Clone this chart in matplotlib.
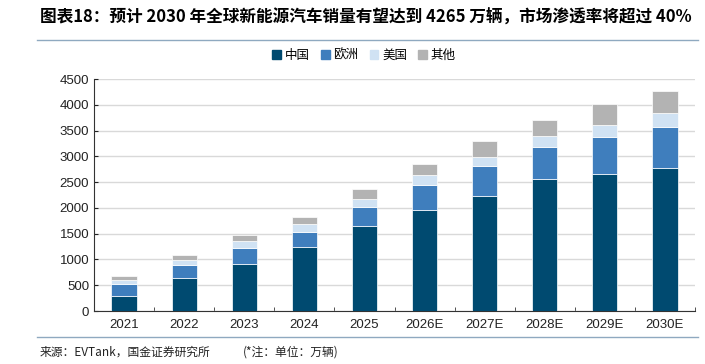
import numpy as np
import matplotlib.pyplot as plt
from matplotlib.lines import Line2D
from matplotlib.patches import Patch

plt.rcParams['font.family'] = ['Liberation Sans', 'Noto Sans CJK SC', 'DejaVu Sans']

years = ['2021', '2022', '2023', '2024', '2025', '2026E', '2027E', '2028E', '2029E', '2030E']
china = [298, 648, 906, 1237, 1645, 1962, 2240, 2551, 2661, 2778]
europe = [220, 246, 318, 291, 375, 486, 564, 622, 712, 796]
usa = [78, 103, 129, 162, 156, 187, 187, 220, 234, 272]
other = [77, 84, 117, 142, 187, 220, 305, 311, 401, 419]
labels = ['中国', '欧洲', '美国', '其他']
colors = ['#004a70', '#3f7ebd', '#d0e2f3', '#b3b3b3']

cjk = ['Noto Sans CJK SC', 'DejaVu Sans']

fig = plt.figure(figsize=(7.05, 3.64), dpi=100)
ax = fig.add_axes([94/705, 1-311/364, 601/705, 232/364])

x = np.arange(len(years))
bottom = np.zeros(len(years))
for vals, c, lab in zip([china, europe, usa, other], colors, labels):
    ax.bar(x, vals, 0.42, bottom=bottom, color=c, edgecolor='white', linewidth=0.5, label=lab, zorder=3)
    bottom += np.array(vals)

ax.set_ylim(0, 4500)
ax.set_yticks(np.arange(0, 4501, 500))
ax.set_xlim(-0.5, len(years) - 0.5)
ax.set_xticks(x)
ax.set_xticklabels(years)
ax.set_xticks(np.arange(-0.5, len(years)), minor=True)
ax.tick_params(axis='x', which='major', length=0, labelsize=9.5, pad=6, colors='#222222')
ax.tick_params(axis='x', which='minor', length=3, direction='in', color='#333333')
ax.tick_params(axis='y', labelsize=9.5, length=3, direction='in', colors='#222222')
ax.grid(axis='y', color='#d9d9d9', linewidth=1, zorder=0)
for s in ['top', 'right']:
    ax.spines[s].set_visible(False)
ax.spines['left'].set_color('#333333')
ax.spines['bottom'].set_color('#333333')

handles = [Patch(color=c) for c in colors]
leg = fig.legend(handles, labels, loc='center', bbox_to_anchor=(364/705, 1-55/364), ncol=4,
                 frameon=False, fontsize=9, handlelength=0.7, handleheight=0.7,
                 handletextpad=0.3, columnspacing=0.9)
for t in leg.get_texts():
    t.set_family(cjk)

fig.text(40/705, 1-18/364, '图表18：预计 2030 年全球新能源汽车销量有望达到 4265 万辆，市场渗透率将超过 40%',
         fontsize=12, fontweight='bold', va='center', ha='left', family=cjk)
fig.add_artist(Line2D([37/705, 698/705], [1-40/364, 1-40/364], color='#8fa9c0', linewidth=1))
fig.add_artist(Line2D([37/705, 698/705], [1-337/364, 1-337/364], color='#8fa9c0', linewidth=1))
fig.text(40/705, 1-352/364, '来源：EVTank，国金证券研究所',
         fontsize=8.5, va='center', ha='left', color='#222222', family=cjk)
fig.text(243/705, 1-352/364, '(*注：单位：万辆)',
         fontsize=8.5, va='center', ha='left', color='#222222', family=cjk)

fig.savefig('out.png', dpi=100)
